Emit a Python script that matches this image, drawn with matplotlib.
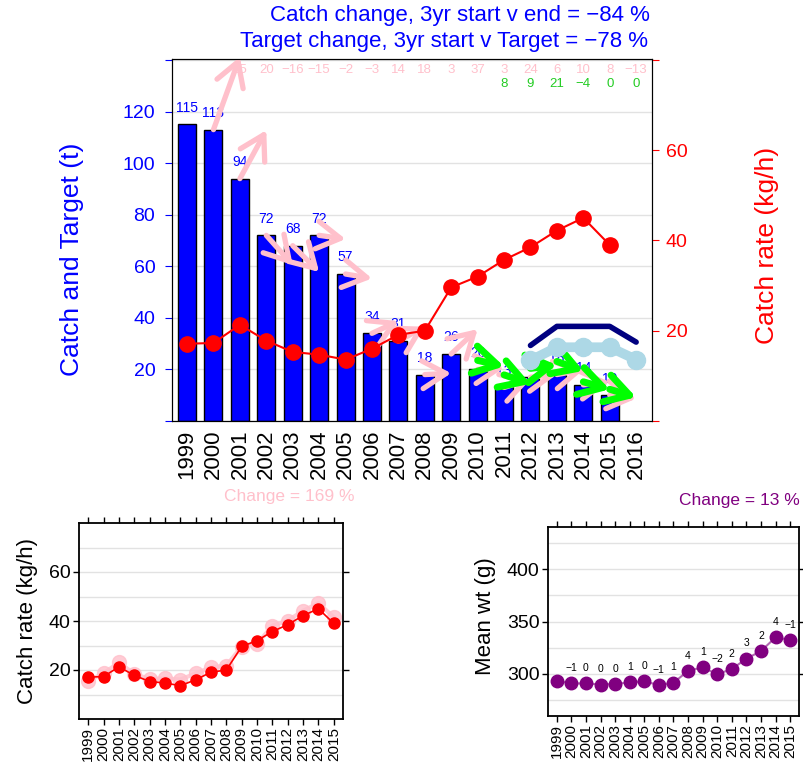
import matplotlib
matplotlib.use("Agg")
import matplotlib.pyplot as plt
import numpy as np

plt.rcParams['font.family'] = ['Liberation Sans', 'DejaVu Sans']

years = list(range(1999, 2017))
catch_t = [115, 113, 94, 72, 68, 72, 57, 34, 31, 18, 26, 20, 13, 17, 18, 14, 10]
catch_rate = [17.1, 17.3, 21.3, 17.8, 15.3, 14.7, 13.6, 16.0, 19.1, 20.0,
              29.6, 32.0, 35.7, 38.5, 42.2, 45.0, 39.0]
catch_rate_raw = [15.6, 18.6, 23.1, 18.4, 16.3, 16.6, 16.1, 18.6, 21.1, 21.8,
                  29.5, 30.6, 38.1, 40.1, 44.2, 47.3, 41.5]
# yearly % change in catch rate, shown 2001..2016
rate_change = [25, 20, -16, -15, -2, -3, 14, 18, 3, 37, 3, 24, 6, 10, 8, -13]
# % change toward target, shown 2011..2016
target_change = [8, 9, 21, -4, 0, 0]
green_from = [23.5, 17.9, 20.4, 23.1, 15.2, 12.3]
green_to = [21.2, 14.4, 21.7, 19.4, 12.3, 9.2]
target_hi = [29.3, 36.7, 36.7, 36.7, 30.6]   # 2012..2016
target_lo = [23.5, 28.6, 28.6, 28.6, 23.8]
mean_wt = [293.6, 291.0, 291.0, 290.0, 290.5, 292.0, 293.0, 289.5, 291.7,
           303.0, 306.4, 299.7, 304.8, 314.6, 321.9, 335.0, 332.4]

title1 = "Catch change, 3yr start v end = \u221284 %"
title2 = "Target change, 3yr start v Target = \u221278 %"
rate_change_txt = "Change = 169 %"


def fmt(v):
    return str(v).replace('-', '\u2212')


W, H = 804, 771
fig = plt.figure(figsize=(W / 100, H / 100), dpi=100)


def box(l, t, r, b):
    return [l / W, 1 - b / H, (r - l) / W, (b - t) / H]


# ---- main panel: catch bars + catch rate ----
ax = fig.add_axes(box(172, 59, 652, 421))
x = np.arange(len(years))
xc = x[:len(catch_t)]
ax.bar(xc, catch_t, width=0.68, color='blue', edgecolor='black', lw=1, zorder=2)
for xi, v in zip(xc, catch_t):
    ax.annotate(str(v), (xi, v), xytext=(0, 12), textcoords='offset points',
                ha='center', va='center', color='blue', fontsize=10, zorder=3)

ax.set_xlim(-0.57, 17.6)
ax.set_ylim(0, 140.4)
ax.set_xticks(x)
ax.set_xticklabels([str(y) for y in years], rotation=90, fontsize=16)
ax.tick_params(axis='x', length=0, pad=6)
ax.set_yticks(np.arange(0, 141, 20))
ax.set_yticklabels(['' if v in (0, 140) else str(v) for v in range(0, 141, 20)])
ax.tick_params(axis='y', colors='blue', labelsize=14, length=5, pad=7)
ax.set_axisbelow(True)
ax.yaxis.grid(True, color='#e2e2e2', lw=1)
ax.set_ylabel("Catch and Target (t)", color='blue', fontsize=19)
ax.yaxis.set_label_coords(-0.183, 0.447)

# pink arrows: catch projected by catch-rate change
for k, ch in enumerate(rate_change):
    x0 = k + 1
    y0 = catch_t[x0]
    y1 = y0 * (1 + ch / 100)
    ax.annotate('', xy=(x0 + 1, y1), xytext=(x0, y0),
                arrowprops=dict(arrowstyle='->,head_length=0.85,head_width=0.5',
                                color='pink', lw=3.8, shrinkA=0, shrinkB=0,
                                mutation_scale=20),
                annotation_clip=False, zorder=4)
    ax.text(k + 2, 136.2, fmt(ch), ha='center', va='center', color='pink', fontsize=9.5)

for k, ch in enumerate(target_change):
    x0 = 11 + k
    ax.annotate('', xy=(x0 + 1, green_to[k]), xytext=(x0, green_from[k]),
                arrowprops=dict(arrowstyle='->,head_length=0.85,head_width=0.5',
                                color='lime', lw=5, shrinkA=0, shrinkB=0,
                                mutation_scale=20),
                annotation_clip=False, zorder=5)
    ax.text(x0 + 1, 130.6, fmt(ch), ha='center', va='center', color='#22cc22', fontsize=9.5)

xt = x[13:18]
ax.plot(xt, target_hi, color='navy', lw=4, zorder=6, solid_capstyle='round')
ax.plot(xt, target_lo, color='lightblue', lw=7, marker='o', ms=13, zorder=6)

ax2 = ax.twinx()
ax2.set_ylim(0, 80.2)
ax2.plot(xc, catch_rate, color='red', lw=1.5, marker='o', ms=11)
ax2.set_yticks([0, 20, 40, 60, 80])
ax2.set_yticklabels(['', '20', '40', '60', ''])
ax2.tick_params(axis='y', colors='red', labelsize=14, length=5, pad=5)
ax2.set_ylabel("Catch rate (kg/h)", color='red', fontsize=19)
ax2.yaxis.set_label_coords(1.214, 0.486)

fig.text(650 / W, 1 - 16 / H, title1, ha='right', va='center', color='blue', fontsize=16)
fig.text(648 / W, 1 - 41 / H, title2, ha='right', va='center', color='blue', fontsize=16)


def small_axes(rect, xs):
    a = fig.add_axes(rect)
    a.set_xlim(-0.6, 16.6)
    a.set_xticks(xs)
    a.set_xticklabels([str(y) for y in years[:len(xs)]], rotation=90, fontsize=11)
    a.tick_params(direction='out', length=4, width=1, top=True, right=True,
                  labelsize=14, pad=2)
    a.tick_params(axis='x', labelsize=11)
    for s in a.spines.values():
        s.set_linewidth(1.3)
    return a


# ---- bottom left: catch rate ----
axl = small_axes(box(79, 523, 343, 719), xc)
axl.set_ylim(0, 80)
axl.set_yticks([20, 40, 60])
for g in range(10, 80, 10):
    axl.axhline(g, color='#e2e2e2', lw=1, zorder=0)
axl.plot(xc, catch_rate_raw, color='pink', lw=3, marker='o', ms=10, alpha=0.8)
axl.plot(xc, catch_rate, color='red', lw=1.2, marker='o', ms=8)
axl.set_ylabel("Catch rate (kg/h)", fontsize=16)
axl.yaxis.set_label_coords(-0.155, 0.5)
fig.text(355 / W, 1 - 496 / H, rate_change_txt, ha='right', va='center',
         color='pink', fontsize=12.5)

# ---- bottom right: mean weight ----
axr = small_axes(box(548, 527, 799, 716), xc)
axr.set_ylim(260, 440)
axr.set_yticks([300, 350, 400])
for g in range(275, 440, 25):
    axr.axhline(g, color='#e2e2e2', lw=1, zorder=0)
axr.plot(xc, mean_wt, color='purple', lw=1.5, alpha=0.6)
axr.plot(xc, mean_wt, color='purple', lw=0, marker='o', ms=9)
for i in range(1, len(mean_wt)):
    pc = int(np.round((mean_wt[i] / mean_wt[i - 1] - 1) * 100))
    axr.annotate(fmt(pc), (xc[i], mean_wt[i]), xytext=(0, 11), textcoords='offset points',
                 ha='center', va='center', fontsize=7.5)
axr.set_ylabel("Mean wt (g)", fontsize=16)
axr.yaxis.set_label_coords(-0.207, 0.53)
wt_pc = int(np.round((mean_wt[-1] / mean_wt[0] - 1) * 100))
fig.text(800 / W, 1 - 500 / H, "Change = %d %%" % wt_pc, ha='right', va='center',
         color='purple', fontsize=12.5)

fig.savefig('out.png', dpi=100)
